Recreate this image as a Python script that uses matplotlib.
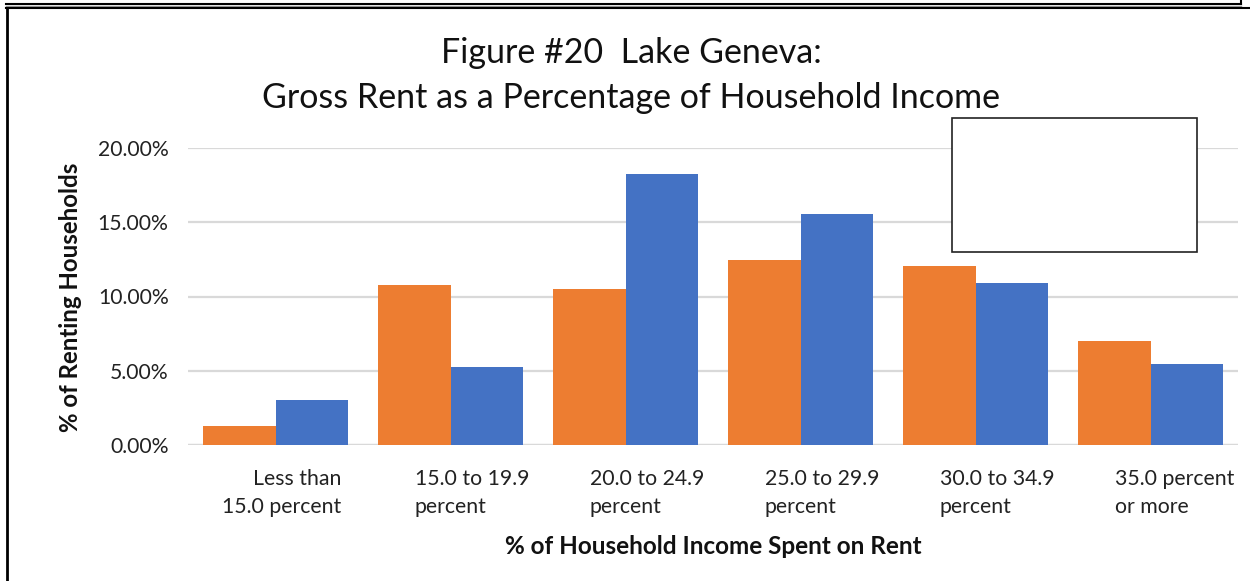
import matplotlib
matplotlib.use("Agg")
import matplotlib.pyplot as plt
from matplotlib.lines import Line2D
from matplotlib.patches import Rectangle
import numpy as np

categories = ["Less than\n15.0 percent", "15.0 to 19.9\npercent", "20.0 to 24.9\npercent",
              "25.0 to 29.9\npercent", "30.0 to 34.9\npercent", "35.0 percent\nor more"]
series_orange = [1.28, 10.77, 10.50, 12.46, 12.05, 7.00]
series_blue = [3.03, 5.25, 18.25, 15.56, 10.90, 5.45]
yticks = [0, 5, 10, 15, 20]
ytick_labels = ["0.00%", "5.00%", "10.00%", "15.00%", "20.00%"]

ORANGE = "#ED7D31"
BLUE = "#4472C4"
FONT = "Lato"

W, H = 1250, 581
fig = plt.figure(figsize=(W / 100, H / 100), dpi=100)
fig.patch.set_facecolor("white")

def fx(px):
    return px / W

def fy(py):
    return 1 - py / H

ax = fig.add_axes([fx(188), fy(445), fx(1238) - fx(188), fy(148) - fy(445)])
x = np.arange(len(categories))
bw = 0.417
ax.bar(x - bw / 2, series_orange, width=bw, color=ORANGE, zorder=3)
ax.bar(x + bw / 2, series_blue, width=bw, color=BLUE, zorder=3)

ax.set_xlim(-0.5, len(categories) - 0.5)
ax.set_ylim(0, 20)
ax.set_yticks(yticks)
ax.set_yticklabels(ytick_labels, fontsize=15.2, family=FONT, color="#222222")
ax.tick_params(axis="y", length=0, pad=14)
ax.set_xticks([])
ax.grid(axis="y", color="#d9d9d9", linewidth=1.6, zorder=0)
for s in ax.spines.values():
    s.set_visible(False)
ax.axhline(0, color="#d9d9d9", linewidth=1.6, zorder=2)

# category labels
trans = ax.get_xaxis_transform()
for i, lab in enumerate(categories):
    if i == 0:
        ax.text(i + 0.374, -0.08, lab, transform=trans, ha="right", va="top",
                multialignment="right", fontsize=15.3, family=FONT, color="#222222",
                linespacing=1.5)
    else:
        ax.text(i - 0.203, -0.08, lab, transform=trans, ha="left", va="top",
                multialignment="left", fontsize=15.3, family=FONT, color="#222222",
                linespacing=1.5)

fig.text(fx(713), fy(546), "% of Household Income Spent on Rent", ha="center", va="center",
         fontsize=17.5, fontweight="bold", family=FONT, color="#111111")
fig.text(fx(71), fy(297), "% of Renting Households", ha="center", va="center",
         rotation=90, fontsize=17.3, fontweight="bold", family=FONT, color="#111111")

fig.text(fx(631), fy(53), "Figure #20  Lake Geneva:", ha="center", va="center",
         fontsize=24.5, family=FONT, color="#111111")
fig.text(fx(631), fy(98), "Gross Rent as a Percentage of Household Income", ha="center",
         va="center", fontsize=24.5, family=FONT, color="#111111")

# empty legend box
fig.patches.append(Rectangle((fx(952), fy(252)), fx(1197) - fx(952), fy(118) - fy(252),
                             transform=fig.transFigure, facecolor="white",
                             edgecolor="#222222", linewidth=1.2, zorder=5))

# frame lines
def fline(x0, y0, x1, y1, color="black", lw=1.5):
    fig.lines.append(Line2D([fx(x0), fx(x1)], [fy(y0), fy(y1)], transform=fig.transFigure,
                            color=color, linewidth=lw))

fline(6, 4, 1241, 4, lw=1.5)
fline(6, 5.5, 1241, 5.5, color="#999999", lw=1.0)
fline(1241, 0, 1241, 4, lw=1.5)
fline(6, 7.5, 1250, 7.5, lw=1.5)
fline(6.5, 7.5, 6.5, 581, lw=2.0)

fig.savefig("out.png", dpi=100, facecolor="white")
